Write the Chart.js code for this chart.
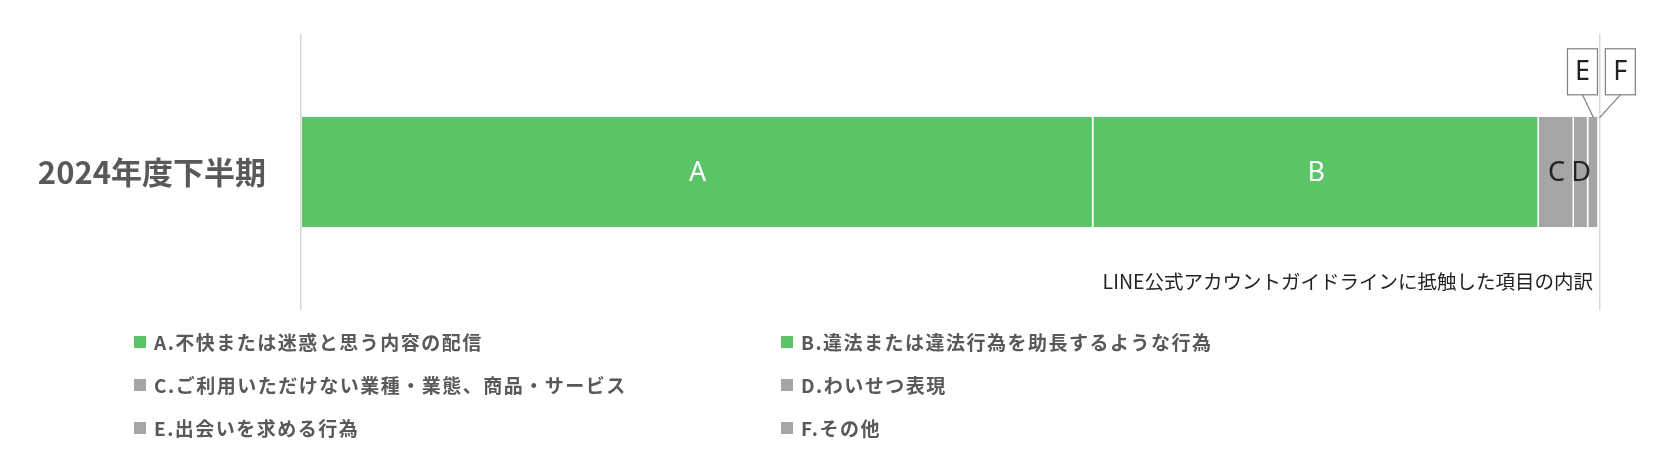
<!DOCTYPE html>
<html>
<head>
<meta charset="utf-8">
<script src="https://cdn.jsdelivr.net/npm/chart.js@4.4.1/dist/chart.umd.min.js"></script>
<style>
  body { margin: 0; background: #fff; font-family: "Noto Sans CJK JP", "Noto Sans", sans-serif; }
  #wrap { position: relative; width: 1678px; height: 470px; }
  #chartBox { position: absolute; left: 0; top: 0; width: 1678px; height: 320px; }
  #legend { position: absolute; left: 0; top: 0; width: 1678px; height: 470px; pointer-events: none; }
  .item { position: absolute; display: flex; align-items: center; color: #595959; font-weight: bold; font-size: 19px; letter-spacing: 1.5px; white-space: nowrap; }
  .item .sw { width: 12px; height: 12px; margin-right: 8px; margin-top: 2px; }
</style>
</head>
<body>
<div id="wrap">
  <div id="chartBox"><canvas id="myChart"></canvas></div>
  <div id="legend"></div>
</div>
<script>
// datos del grafico
var categories = ['2024年度下半期'];
var seriesNames = ['A', 'B', 'C', 'D', 'E', 'F'];
var seriesValues = [61.0, 34.3, 2.7, 1.1, 0.8, 0.1];
var seriesColors = ['#5bc466', '#5bc466', '#a5a5a5', '#a5a5a5', '#a5a5a5', '#a5a5a5'];
var legendTexts = [
    'A.不快または迷惑と思う内容の配信',
    'B.違法または違法行為を助長するような行為',
    'C.ご利用いただけない業種・業態、商品・サービス',
    'D.わいせつ表現',
    'E.出会いを求める行為',
    'F.その他'
];
var xTicks = [0, 100];
var subtitle = 'LINE公式アカウントガイドラインに抵触した項目の内訳';

// etiquetas: dentro de la barra o en cajita arriba
var labelColors = ['#ffffff', '#ffffff', '#222222', '#222222', '#222222', '#222222'];
var calloutShift = { 4: -11, 5: 21 };

var datasets = [];
for (var i = 0; i < seriesNames.length; i++) {
    datasets.push({
        label: seriesNames[i],
        data: [seriesValues[i]],
        backgroundColor: seriesColors[i],
        borderColor: '#ffffff',
        borderWidth: { left: 0, right: 1.5, top: 0, bottom: 0 },
        borderSkipped: false,
        barPercentage: 0.4,
        categoryPercentage: 1
    });
}

var barLabels = {
    id: 'barLabels',
    afterDatasetsDraw: function (chart) {
        var ctx = chart.ctx;
        ctx.save();
        ctx.textAlign = 'center';
        ctx.textBaseline = 'middle';
        ctx.font = '27px "Noto Sans", sans-serif';
        for (var i = 0; i < chart.data.datasets.length; i++) {
            var el = chart.getDatasetMeta(i).data[0];
            var cx = (el.x + el.base) / 2;
            var top = el.y - el.height / 2;
            if (calloutShift[i] === undefined) {
                ctx.fillStyle = labelColors[i];
                ctx.fillText(seriesNames[i], cx, el.y + 1);
            } else {
                var bx = cx + calloutShift[i];
                var bw = 30, bh = 46, by = top - 68;
                ctx.strokeStyle = '#7f7f7f';
                ctx.lineWidth = 1.2;
                ctx.beginPath();
                ctx.moveTo(bx, by + bh);
                ctx.lineTo(cx, top + 1);
                ctx.stroke();
                ctx.fillStyle = '#ffffff';
                ctx.fillRect(bx - bw / 2, by, bw, bh);
                ctx.strokeRect(bx - bw / 2, by, bw, bh);
                ctx.fillStyle = labelColors[i];
                ctx.fillText(seriesNames[i], bx, by + bh / 2 + 1);
            }
        }
        // texto debajo de la barra
        ctx.textAlign = 'right';
        ctx.fillStyle = '#222222';
        ctx.font = '19.5px "Noto Sans CJK JP", sans-serif';
        ctx.fillText(subtitle, chart.chartArea.right - 7, 282);
        ctx.restore();
    }
};

var ctx = document.getElementById('myChart').getContext('2d');
var chart = new Chart(ctx, {
    type: 'bar',
    data: {
        labels: categories,
        datasets: datasets
    },
    options: {
        indexAxis: 'y',
        responsive: true,
        maintainAspectRatio: false,
        animation: false,
        layout: { padding: { top: 34, right: 78, bottom: 10, left: 0 } },
        plugins: {
            legend: { display: false },
            tooltip: { enabled: false }
        },
        scales: {
            x: {
                stacked: true,
                min: xTicks[0],
                max: xTicks[xTicks.length - 1],
                afterBuildTicks: function (s) {
                    s.ticks = xTicks.map(function (v) { return { value: v }; });
                },
                afterFit: function (s) { s.height = 0; },
                ticks: { display: false },
                border: { display: false },
                grid: { color: '#d9d9d9', lineWidth: 1.5, drawTicks: false }
            },
            y: {
                stacked: true,
                afterFit: function (s) {
                    s.width = 301;
                    s.paddingTop = 0;
                    s.paddingBottom = 0;
                },
                border: { display: false },
                grid: { display: false, drawTicks: false },
                ticks: {
                    padding: 35,
                    color: '#595959',
                    font: { family: '"Noto Sans CJK JP", sans-serif', size: 31, weight: 'bold' }
                }
            }
        }
    },
    plugins: [barLabels]
});

// leyenda en dos columnas
var legendCols = [134, 781];
var legendRows = [341, 384, 427];
var legendBox = document.getElementById('legend');
for (var k = 0; k < legendTexts.length; k++) {
    var item = document.createElement('div');
    item.className = 'item';
    item.style.left = legendCols[k % 2] + 'px';
    item.style.top = (legendRows[Math.floor(k / 2)] - 14) + 'px';
    item.style.height = '28px';
    item.innerHTML = '<span class="sw" style="background:' + seriesColors[k] + '"></span>' + legendTexts[k];
    legendBox.appendChild(item);
}
</script>
</body>
</html>
